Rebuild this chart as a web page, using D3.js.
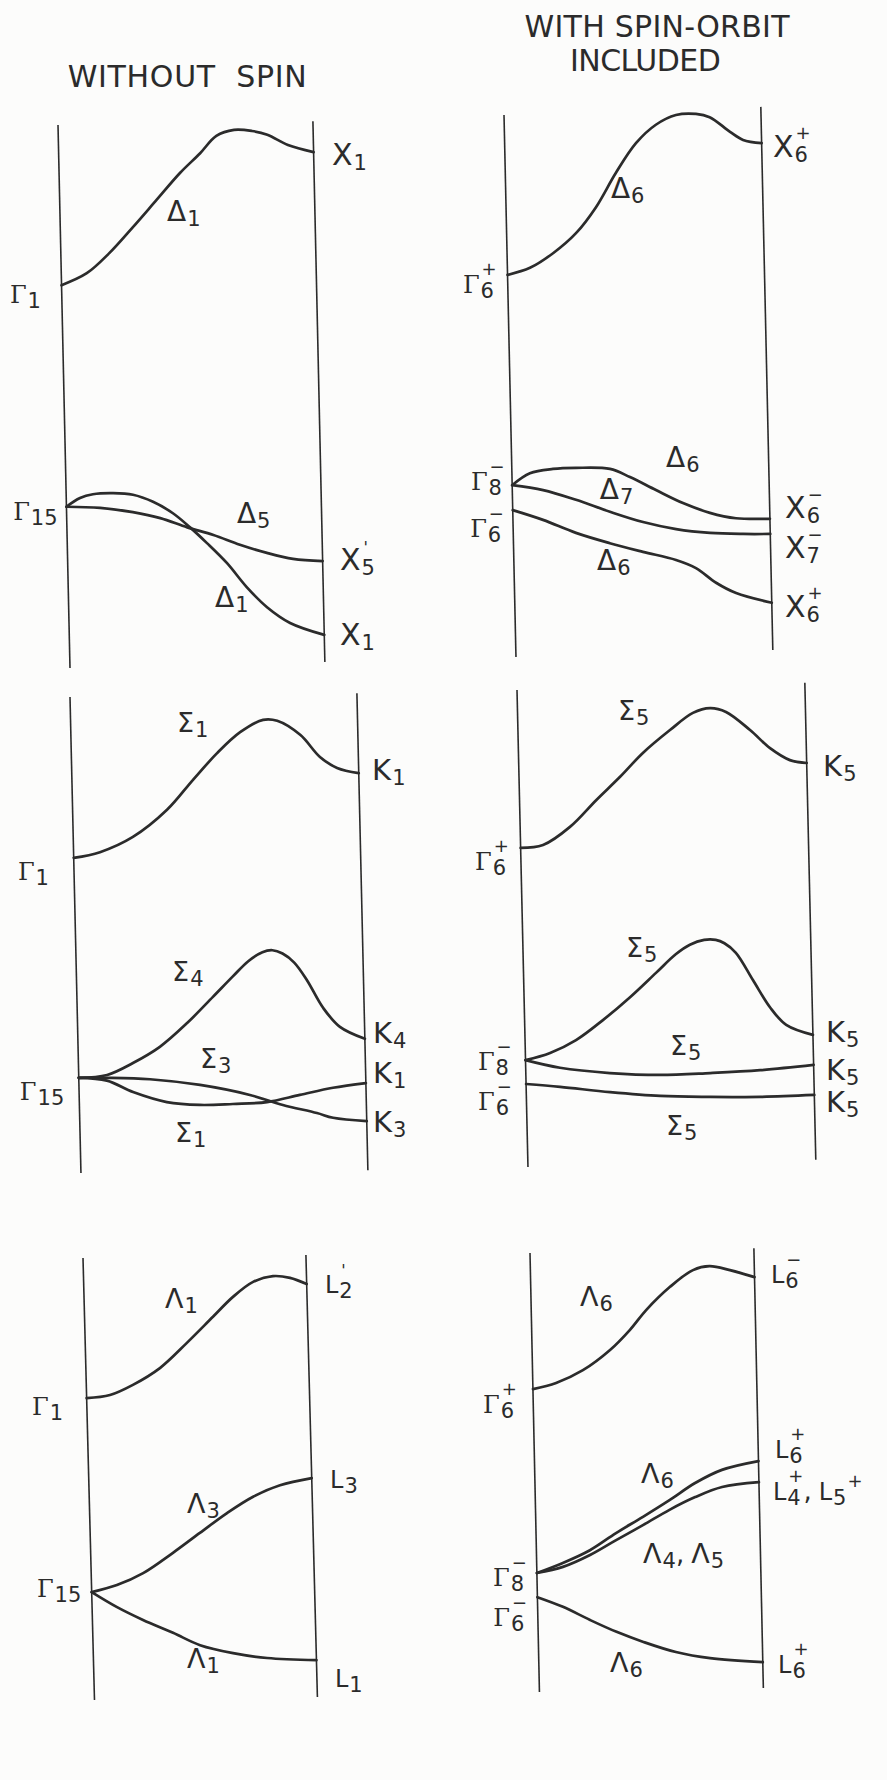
<!DOCTYPE html>
<html>
<head>
<meta charset="utf-8">
<script src="https://cdn.jsdelivr.net/npm/d3@7"></script>
<style>
  html, body { margin: 0; padding: 0; background: #fcfcfb; }
  svg { display: block; }
  text { font-family: 'DejaVu Sans', sans-serif; fill: #2b2b2b; }
</style>
</head>
<body>
<svg id="chart" width="887" height="1780"></svg>
<script>
// Energy bands along the Δ, Σ and Λ directions, Γ at the left edge (u = 0),
// zone-boundary point at the right edge (u = 1). Energies in relative units 0–100.

// ---- Δ direction, without spin ----
const A_GAMMA1_X1 = [[0,70.5],[0.10,72.7],[0.19,76.4],[0.285,81.2],[0.38,86.2],[0.475,91.2],[0.555,94.8],[0.62,98.0],[0.69,99.1],[0.76,98.9],[0.82,98.2],[0.90,96.3],[1,95.0]];
const A_DELTA1_LOW = [[0,29.7],[0.054,31.3],[0.105,32.0],[0.184,32.2],[0.262,31.9],[0.34,30.6],[0.417,28.5],[0.483,25.9],[0.548,23.0],[0.625,19.3],[0.70,14.9],[0.778,11.2],[0.867,8.3],[1,6.1]];
const A_DELTA5 = [[0,29.7],[0.132,29.5],[0.26,28.7],[0.367,27.6],[0.472,25.9],[0.574,24.5],[0.677,22.7],[0.782,21.2],[0.884,20.1],[1,19.7]];

// ---- Δ direction, spin-orbit included ----
const B_DELTA6_TOP = [[0,70.5],[0.088,71.8],[0.179,74.5],[0.27,78.2],[0.35,83.0],[0.43,89.3],[0.511,94.8],[0.59,98.2],[0.669,100],[0.747,100.2],[0.80,99.6],[0.878,96.9],[0.928,95.4],[1,94.8]];
const B_DELTA6_UP = [[0,31.7],[0.07,33.9],[0.16,34.7],[0.25,34.9],[0.382,34.7],[0.459,33.2],[0.559,30.8],[0.663,28.4],[0.767,26.6],[0.868,25.6],[1,25.5]];
const B_DELTA7 = [[0,31.7],[0.12,30.8],[0.247,29.0],[0.378,26.8],[0.506,24.9],[0.634,23.6],[0.766,22.9],[0.894,22.7],[1,22.7]];
const B_DELTA6_LOW = [[0,27.1],[0.117,25.3],[0.244,22.9],[0.375,21.0],[0.503,19.4],[0.631,17.9],[0.708,16.4],[0.785,13.7],[0.862,11.8],[1,10.0]];

// ---- Σ direction, without spin ----
const C_SIGMA1_TOP = [[0,66.2],[0.092,67.4],[0.208,70.6],[0.329,76.3],[0.422,82.6],[0.508,88.2],[0.59,92.6],[0.671,95.2],[0.72,95.0],[0.80,92.0],[0.866,87.4],[0.925,85.1],[1,84.0]];
const C_SIGMA4 = [[0,20.0],[0.099,20.6],[0.19,23.1],[0.285,26.5],[0.382,31.5],[0.474,37.0],[0.545,41.3],[0.60,44.5],[0.65,46.4],[0.685,46.8],[0.72,46.1],[0.76,44.2],[0.803,40.5],[0.857,34.7],[0.914,30.7],[1,28.2]];
const C_SIGMA3 = [[0,20.0],[0.098,20.0],[0.248,19.7],[0.422,18.5],[0.595,16.4],[0.709,14.3],[0.827,12.6],[0.883,11.6],[1,10.9]];
const C_SIGMA1_LOW = [[0,20.0],[0.098,19.4],[0.188,17.0],[0.305,14.9],[0.42,14.3],[0.535,14.5],[0.654,14.9],[0.769,16.4],[0.885,17.9],[1,18.9]];

// ---- Σ direction, spin-orbit included ----
const D_SIGMA5_TOP = [[0,66.9],[0.078,67.5],[0.173,71.3],[0.266,76.9],[0.351,81.8],[0.432,86.8],[0.528,91.6],[0.609,95.2],[0.669,96.2],[0.724,95.4],[0.806,91.6],[0.874,87.8],[0.942,85.3],[1,84.7]];
const D_SIGMA5_MID = [[0,22.4],[0.086,23.9],[0.177,26.6],[0.272,30.8],[0.368,35.6],[0.46,40.7],[0.53,44.6],[0.58,46.6],[0.63,47.6],[0.67,47.6],[0.70,46.9],[0.739,44.9],[0.796,39.2],[0.853,33.5],[0.908,29.8],[1,27.7]];
const D_SIGMA5_FLAT = [[0,22.4],[0.119,20.8],[0.292,19.7],[0.466,19.3],[0.64,19.7],[0.814,20.3],[1,21.4]];
const D_SIGMA5_LOW = [[0,17.4],[0.118,16.8],[0.291,15.7],[0.465,14.9],[0.638,14.7],[0.812,14.7],[1,15.1]];

// ---- Λ direction, without spin ----
const E_LAMBDA1_TOP = [[0,68.3],[0.105,69.0],[0.209,71.3],[0.332,75.1],[0.456,80.8],[0.576,86.7],[0.668,91.2],[0.76,94.6],[0.85,95.9],[0.926,95.5],[1,94.1]];
const E_LAMBDA3 = [[0,24.4],[0.114,26.0],[0.233,28.7],[0.369,33.3],[0.492,37.8],[0.616,42.3],[0.735,46.0],[0.857,48.6],[1,50.2]];
const E_LAMBDA1_LOW = [[0,24.4],[0.112,21.0],[0.227,18.1],[0.36,15.2],[0.48,12.4],[0.627,10.6],[0.779,9.5],[1,9.0]];

// ---- Λ direction, spin-orbit included ----
const F_LAMBDA6_TOP = [[0,69.0],[0.104,70.4],[0.225,73.3],[0.348,77.9],[0.439,82.5],[0.513,87.0],[0.622,92.3],[0.726,96.1],[0.80,97.0],[0.891,96.1],[1,94.5]];
const F_LAMBDA6_MID = [[0,27.1],[0.117,29.4],[0.239,32.3],[0.357,36.2],[0.479,39.9],[0.599,43.7],[0.715,47.6],[0.836,50.6],[1,52.6]];
const F_LAMBDA45 = [[0,27.1],[0.117,28.5],[0.239,31.2],[0.357,34.6],[0.478,38.0],[0.598,41.5],[0.714,44.4],[0.835,46.7],[1,47.8]];
const F_LAMBDA6_LOW = [[0,21.6],[0.113,19.4],[0.233,16.4],[0.35,13.7],[0.469,11.4],[0.613,9.1],[0.765,7.7],[1,6.8]];

// Symmetry labels: tokens are [letter, subscript, superscript, superscript-after-subscript]
const A_LABELS = [
  {t:[['Γ','1']], u:-0.204, e:67.2},
  {t:[['Δ','1']], u:0.419, e:82.3},
  {t:[['X','1']], u:1.071, e:92.6},
  {t:[['Γ','15']], u:-0.21, e:27.3},
  {t:[['Δ','5']], u:0.667, e:26.7},
  {t:[['X','5',"'"]], u:1.067, e:18.0},
  {t:[['Δ','1']], u:0.574, e:11.2},
  {t:[['X','1']], u:1.061, e:4.2}
];
const B_LABELS = [
  {t:[['Γ','6','+']], u:-0.175, e:67.2},
  {t:[['Δ','6']], u:0.409, e:84.7},
  {t:[['X','6','+']], u:1.043, e:92.3},
  {t:[['Γ','8','−']], u:-0.161, e:30.8},
  {t:[['Γ','6','−']], u:-0.168, e:22.1},
  {t:[['Δ','6']], u:0.60, e:35.1},
  {t:[['Δ','7']], u:0.34, e:29.2},
  {t:[['Δ','6']], u:0.323, e:16.1},
  {t:[['X','6','−']], u:1.059, e:25.6},
  {t:[['X','7','−']], u:1.055, e:18.3},
  {t:[['X','6','+']], u:1.05, e:7.4}
];
const C_LABELS = [
  {t:[['Σ','1']], u:0.37, e:92.6},
  {t:[['K','1']], u:1.046, e:82.6},
  {t:[['Γ','1']], u:-0.196, e:61.6},
  {t:[['Σ','4']], u:0.333, e:40.3},
  {t:[['K','4']], u:1.028, e:27.3},
  {t:[['Σ','3']], u:0.423, e:22.1},
  {t:[['K','1']], u:1.025, e:18.9},
  {t:[['K','3']], u:1.021, e:8.6},
  {t:[['Σ','1']], u:0.33, e:6.5},
  {t:[['Γ','15']], u:-0.207, e:15.3}
];
const D_LABELS = [
  {t:[['Σ','5']], u:0.348, e:93.7},
  {t:[['K','5']], u:1.056, e:82.0},
  {t:[['Γ','6','+']], u:-0.16, e:62.3},
  {t:[['Σ','5']], u:0.357, e:44.0},
  {t:[['Σ','5']], u:0.502, e:23.5},
  {t:[['Σ','5']], u:0.482, e:6.7},
  {t:[['K','5']], u:1.045, e:26.2},
  {t:[['K','5']], u:1.042, e:18.2},
  {t:[['K','5']], u:1.039, e:11.5},
  {t:[['Γ','8','−']], u:-0.166, e:20.3},
  {t:[['Γ','6','−']], u:-0.169, e:11.9}
];
const E_LABELS = [
  {t:[['Γ','1']], u:-0.247, e:64.5},
  {t:[['Λ','1']], u:0.362, e:88.7},
  {t:[['L','2',"'"]], u:1.081, e:92.1},
  {t:[['Λ','3']], u:0.437, e:42.3},
  {t:[['L','3']], u:1.081, e:48.0},
  {t:[['Γ','15']], u:-0.246, e:23.3},
  {t:[['Λ','1']], u:0.419, e:7.2},
  {t:[['L','1']], u:1.08, e:2.9}
];
const F_LABELS = [
  {t:[['L','6','−']], u:1.073, e:93.2},
  {t:[['Λ','6']], u:0.218, e:87.9},
  {t:[['Γ','6','+']], u:-0.225, e:63.6},
  {t:[['L','6','+']], u:1.074, e:53.3},
  {t:[['Λ','6']], u:0.474, e:47.6},
  {t:[['L','4','+'],[','],['L','5','+',true]], u:1.061, e:43.7},
  {t:[['Λ','4'],[','],['Λ','5']], u:0.475, e:29.4},
  {t:[['Λ','6']], u:0.317, e:4.6},
  {t:[['L','6','+']], u:1.067, e:4.3},
  {t:[['Γ','8','−']], u:-0.197, e:24.2},
  {t:[['Γ','6','−']], u:-0.2, e:15.0}
];

// Column headings
const HEADINGS = [
  {panel:'A', text:'WITHOUT  SPIN', u:0.51, e:107, len:239},
  {panel:'B', text:'WITH SPIN-ORBIT', u:0.602, e:114.4, len:265},
  {panel:'B', text:'INCLUDED', u:0.554, e:108.1, len:151}
];

// Panel frames: left edge top/bottom in page space, slant of the edges,
// zone width, and vertical extent of the right edge in energy units.
const PANELS = {
  A: {x0:58,  yTop:125,  yBot:668,  slant:0.0221, w:255, right:[1.1,100.7],
      bands:[A_GAMMA1_X1, A_DELTA1_LOW, A_DELTA5], labels:A_LABELS},
  B: {x0:504, yTop:115,  yBot:657,  slant:0.0221, w:257, right:[1.3,101.5],
      bands:[B_DELTA6_TOP, B_DELTA6_UP, B_DELTA7, B_DELTA6_LOW], labels:B_LABELS},
  C: {x0:70,  yTop:697,  yBot:1173, slant:0.023,  w:287, right:[0.6,100.8],
      bands:[C_SIGMA1_TOP, C_SIGMA4, C_SIGMA3, C_SIGMA1_LOW], labels:C_LABELS},
  D: {x0:517, yTop:690,  yBot:1167, slant:0.023,  w:288, right:[1.5,101.5],
      bands:[D_SIGMA5_TOP, D_SIGMA5_MID, D_SIGMA5_FLAT, D_SIGMA5_LOW], labels:D_LABELS},
  E: {x0:83,  yTop:1258, yBot:1700, slant:0.026,  w:223, right:[0.7,100.7],
      bands:[E_LAMBDA1_TOP, E_LAMBDA3, E_LAMBDA1_LOW], labels:E_LABELS},
  F: {x0:530, yTop:1253, yBot:1692, slant:0.0215, w:224, right:[0.9,101.1],
      bands:[F_LAMBDA6_TOP, F_LAMBDA6_MID, F_LAMBDA45, F_LAMBDA6_LOW], labels:F_LABELS}
};

const LETTER_SIZE = {'Γ':24, 'Δ':28, 'Σ':27, 'Λ':27, 'X':30, 'K':29, 'L':24, ',':26};
const SERIF_LETTERS = new Set(['Γ']);
const SUB_SIZE = 21, SUB_DY = 5;
const SUP_SIZE = {'+':18, '−':18, "'":16};
const SUP_DY = {'+':-18, '−':-17, "'":-17};
const INK = '#2b2b2b';

const svg = d3.select('#chart');

function makeProjector(p) {
  const x = d3.scaleLinear().domain([0, 1]).range([p.x0, p.x0 + p.w]);
  const y = d3.scaleLinear().domain([0, 100]).range([p.yBot, p.yTop]);
  // hand-ruled edges lean slightly: shift x in proportion to depth
  return {
    px: (u, e) => x(u) + p.slant * (y(e) - p.yTop),
    py: (u, e) => y(e)
  };
}

// One <text> per label; subscripts and stacked superscripts are tspans.
function drawLabel(g, spec, x0, y0) {
  const t = g.append('text').attr('x', x0).attr('y', y0);
  let cur = 0, pend = 0;
  const span = (txt, fs, off, dx, serif) => {
    const s = t.append('tspan')
      .attr('font-size', fs)
      .attr('dy', off - cur)
      .attr('dx', dx + pend)
      .text(txt);
    if (serif) s.style('font-family', "'DejaVu Serif', serif");
    cur = off; pend = 0;
    return s.node().getComputedTextLength();
  };
  spec.t.forEach((tok, i) => {
    const [b, sub, sup, after] = tok;
    span(b, LETTER_SIZE[b] || 26, 0, i === 0 ? 0 : (b === ',' ? 0 : 7), SERIF_LETTERS.has(b));
    let sw = 0;
    if (sub) sw = span(sub, SUB_SIZE, SUB_DY, 1);
    if (sup) {
      if (after) {
        span(sup, SUP_SIZE[sup], -13, 1);
      } else {
        const nudge = sup === "'" ? 2 : 1;
        const pw = span(sup, SUP_SIZE[sup], SUP_DY[sup], -sw + nudge);
        pend = Math.max(0, sw - pw - nudge);
      }
    }
  });
}

const band = (proj) => d3.line()
  .x(d => proj.px(d[0], d[1]))
  .y(d => proj.py(d[0], d[1]))
  .curve(d3.curveCatmullRom.alpha(0.5));

Object.entries(PANELS).forEach(([id, p]) => {
  const proj = makeProjector(p);
  const g = svg.append('g').attr('class', 'panel panel-' + id);

  const edge = d3.line().x(d => proj.px(d[0], d[1])).y(d => proj.py(d[0], d[1]));
  g.append('path').attr('d', edge([[0, 0], [0, 100]]))
    .attr('fill', 'none').attr('stroke', INK).attr('stroke-width', 1.6);
  g.append('path').attr('d', edge([[1, p.right[0]], [1, p.right[1]]]))
    .attr('fill', 'none').attr('stroke', INK).attr('stroke-width', 1.6);

  g.selectAll('path.band').data(p.bands).enter().append('path')
    .attr('class', 'band')
    .attr('d', band(proj))
    .attr('fill', 'none').attr('stroke', INK)
    .attr('stroke-width', 2.7).attr('stroke-linejoin', 'round').attr('stroke-linecap', 'round');

  const lg = g.append('g').attr('class', 'labels');
  p.labels.forEach(l => drawLabel(lg, l, proj.px(l.u, l.e), proj.py(l.u, l.e)));
});

HEADINGS.forEach(h => {
  const proj = makeProjector(PANELS[h.panel]);
  svg.append('text')
    .attr('x', proj.px(h.u, h.e)).attr('y', proj.py(h.u, h.e))
    .attr('text-anchor', 'middle')
    .attr('font-size', 30)
    .attr('textLength', h.len).attr('lengthAdjust', 'spacing')
    .style('white-space', 'pre')
    .text(h.text);
});
</script>
</body>
</html>
